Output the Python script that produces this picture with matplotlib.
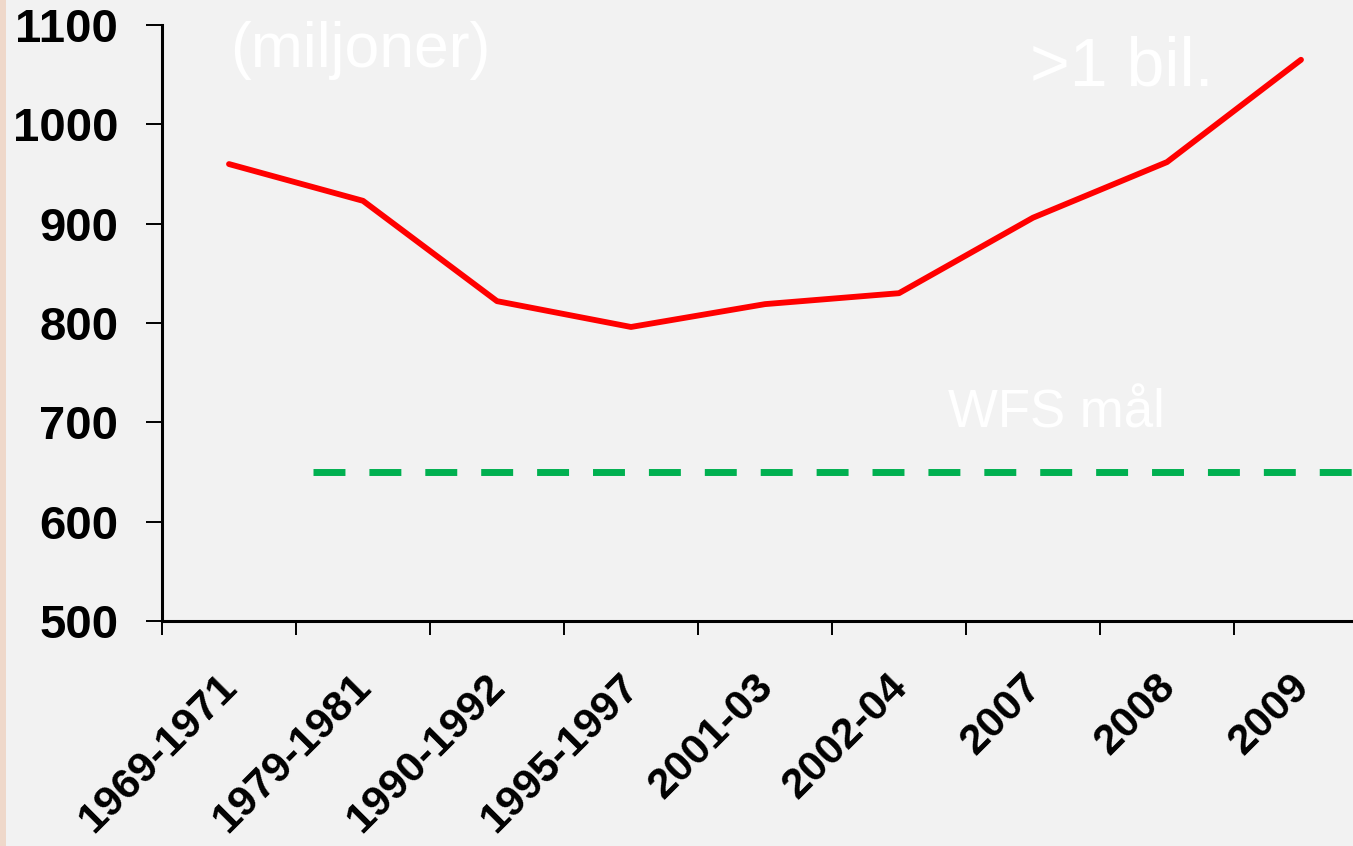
import matplotlib
matplotlib.use("Agg")
import matplotlib.pyplot as plt
from matplotlib.patches import Rectangle
import numpy as np

# --- data ---
perioder = ["1969-1971", "1979-1981", "1990-1992", "1995-1997", "2001-03",
            "2002-04", "2007", "2008", "2009"]
hungriga = [960, 923, 822, 796, 819, 830, 906, 962, 1065]
wfs_mal = 650
y_ticks = [500, 600, 700, 800, 900, 1000, 1100]

plt.rcParams['font.family'] = ['Liberation Sans', 'DejaVu Sans']

W, H = 1353, 846
fig = plt.figure(figsize=(W / 100, H / 100), dpi=100)
fig.patch.set_facecolor('#f2f2f2')

# thin strip of the photo at the left edge
fig.patches.append(Rectangle((0, 0), 6 / W, 1, transform=fig.transFigure,
                             facecolor='#efd8ca', edgecolor='none', zorder=0))

# axes run past the right edge, like in the slide
ax = fig.add_axes([162 / W, 225 / H, 9 * 134 / W, 596 / H])
ax.set_facecolor('#f2f2f2')

x = np.arange(len(perioder))
ax.plot(x, hungriga, color='#ff0000', lw=4.2, solid_capstyle='round',
        solid_joinstyle='round', zorder=3)
ax.plot([0.63, 9.0], [wfs_mal, wfs_mal], color='#00b050', lw=5.0,
        linestyle=(0, (4.6, 3.45)), dash_capstyle='butt', zorder=2)

ax.set_xlim(-0.5, len(perioder) - 0.5)
ax.set_ylim(500, 1100)

# ticks on the category boundaries, labels under the centres
ax.set_xticks(np.arange(len(perioder)) - 0.5)
ax.set_xticklabels([])
ax.set_xticks(x - 0.09, perioder, minor=True)
ax.tick_params(axis='x', which='major', length=10, width=1.4, direction='out')
ax.tick_params(axis='x', which='minor', length=0, pad=33)
for lab in ax.get_xticklabels(minor=True):
    lab.set_rotation(45)
    lab.set_rotation_mode('anchor')
    lab.set_ha('right')
    lab.set_va('top')
    lab.set_fontsize(31)
    lab.set_fontweight('bold')

ax.set_yticks(y_ticks)
ax.tick_params(axis='y', length=11.5, width=1.4, direction='out', pad=20)
for lab in ax.get_yticklabels():
    lab.set_fontsize(34)
    lab.set_fontweight('bold')

for s in ['top', 'right']:
    ax.spines[s].set_visible(False)
for s in ['left', 'bottom']:
    ax.spines[s].set_linewidth(2.2)
    ax.spines[s].set_color('black')

# white annotations
fig.text(230 / W, 1 - 67 / H, "(miljoner)", color='white', fontsize=45,
         ha='left', va='baseline')
fig.text(1030 / W, 1 - 85 / H, ">1 bil.", color='white', fontsize=49,
         ha='left', va='baseline')
fig.text(948 / W, 1 - 428 / H, "WFS mål", color='white', fontsize=38,
         ha='left', va='baseline')

fig.savefig("out.png", dpi=100, facecolor=fig.get_facecolor())
